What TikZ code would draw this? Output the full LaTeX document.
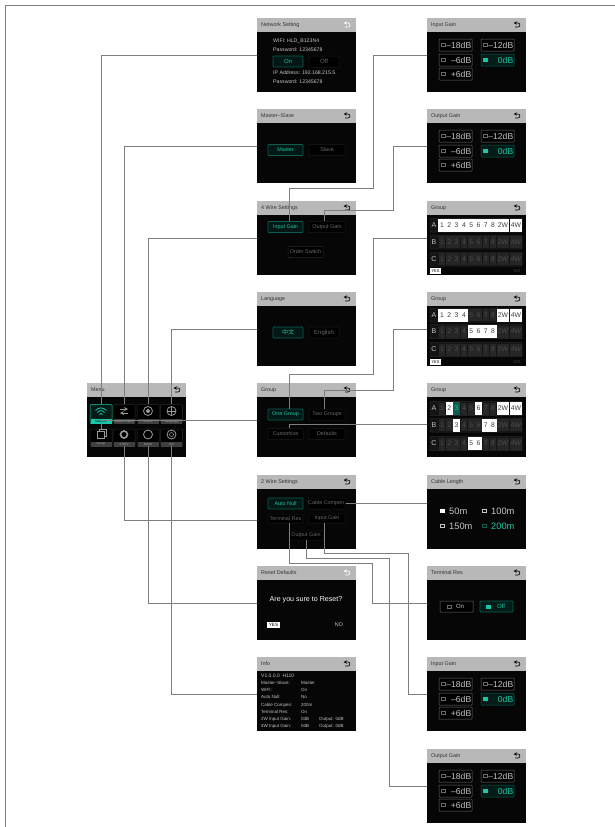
\documentclass[tikz,border=0pt]{standalone}
\usepackage{fontspec}
\setmainfont{Liberation Sans}
\newfontfamily\cjk{Noto Sans CJK SC}
\usepackage{xcolor}
\usetikzlibrary{shapes,arrows,positioning,calc,fit}

\definecolor{scrteal}{HTML}{19C7A6}
\definecolor{scrtealdark}{HTML}{0B5E50}
\definecolor{scrbar}{HTML}{B8B8B8}
\definecolor{scrblack}{HTML}{060606}
\definecolor{scrline}{HTML}{2A2A2A}
\definecolor{scrfaint}{HTML}{1C1C1C}
\definecolor{scrgrey}{HTML}{6A6A6A}
\definecolor{scrtext}{HTML}{C4C4C4}
\definecolor{linkgrey}{HTML}{7E7E7E}

\newcommand{\fs}[1]{\fontsize{#1}{#1}\selectfont}

% name, left, top, title, colour of the back icon
\newcommand{\screen}[5]{
    \node[scrbody, anchor=north west] (#1) at (#2,#3) {};
    \node[scrhead, anchor=north west] (#1bar) at (#1.north west) {};
    \node[scrtitle, anchor=west] (#1title) at ([xshift=4pt]#1bar.west) {#4};
    \draw[->, >=stealth, line width=0.6pt, color=#5] ([shift={(-11,2)}]#1bar.east) -- ++(3,0) to[out=0, in=0, looseness=1.6] ++(0,-4) -- ++(-4.5,0);
}

% name, top, title
\newcommand{\gainscreen}[3]{
    \screen{#1}{427}{#2}{#3}{black}
    \begin{scope}[shift={(427,#2)}]
        \foreach \nm/\cx/\cy/\lab in {a/28.5/27/–18dB, b/70.5/27/–12dB, c/28.5/42/–6dB, e/28.5/56/+6dB} {
            \node[gainbtn] (#1\nm) at (\cx,\cy) {\lab};
            \node[gainmark] (#1\nm m) at (\cx-12,\cy) {};
        }
        \node[gainbtn, draw=scrtealdark, fill=scrtealdark!30!black, text=scrteal] (#1d) at (70.5,42) {0dB};
        \node[gainmark, fill=scrteal, draw=scrteal] (#1dm) at (70.5-12,42) {};
    \end{scope}
}

% marks a cell that the row loop has to leave out
\newcommand{\skipcell}[3]{\expandafter\gdef\csname skip#1#2#3\endcsname{}}

% name, top, centres of the rows, lit cells as row/cell
\newcommand{\groupscreen}[6]{
    \screen{#1}{427}{#2}{Group}{black}
    \foreach \rowname/\cellno in {#6} {
        \skipcell{#1}{\rowname}{\cellno}
    }
    \foreach \rowname/\rowy in {A/#3, B/#4, C/#5} {
        \node[rowbox] (#1\rowname) at (476,\rowy) {};
        \node[rowlab] (#1\rowname l) at (434,\rowy) {\rowname};
        \foreach \cellno in {1,...,10} {
            \pgfmathsetmacro\cx{\cellno<9 ? 442+7.3*(\cellno-1) : (\cellno==9 ? 503 : 516)}
            \pgfmathsetmacro\cw{\cellno<9 ? 6.6 : 12.2}
            \ifcsname skip#1\rowname\cellno\endcsname\else
                \node[celloff, minimum width=\cw pt] (#1\rowname\cellno) at (\cx,\rowy) {\celllab{\cellno}};
            \fi
        }
    }
    \foreach \rowname/\cellno in {#6} {
        \pgfmathsetmacro\cx{\cellno<9 ? 442+7.3*(\cellno-1) : (\cellno==9 ? 503 : 516)}
        \pgfmathsetmacro\cw{\cellno<9 ? 7.4 : 12.6}
        \node[cellon, minimum width=\cw pt] (#1\rowname\cellno on) at (\cx,0 |- #1\rowname) {\celllab{\cellno}};
    }
}
\newcommand{\celllab}[1]{\ifnum#1=9 2W\else\ifnum#1=10 4W\else#1\fi\fi}

\begin{document}
\begin{tikzpicture}[x=1pt, y=-1pt]
    \tikzstyle{scrbody} = [rectangle, fill=scrblack, inner sep=0pt, outer sep=0pt, minimum width=99pt, minimum height=74pt]
    \tikzstyle{scrhead} = [rectangle, fill=scrbar, inner sep=0pt, outer sep=0pt, minimum width=99pt, minimum height=14pt]
    \tikzstyle{scrtitle} = [inner sep=0pt, text=black!80, font=\fs{5.4}]
    \tikzstyle{btnon} = [rectangle, rounded corners=0.8pt, draw=scrtealdark, line width=0.7pt, fill=scrtealdark!25!black, text=scrteal, inner sep=0pt, minimum height=11pt, font=\fs{5.4}]
    \tikzstyle{btnoff} = [rectangle, rounded corners=0.8pt, draw=scrfaint, line width=0.5pt, fill=black, text=scrgrey, inner sep=0pt, minimum height=11pt, font=\fs{5.4}]
    \tikzstyle{scrline} = [inner sep=0pt, text=scrtext, font=\fs{5.2}, anchor=west]
    \tikzstyle{infoline} = [inner sep=0pt, text=scrtext, font=\fs{4.5}, anchor=west]
    \tikzstyle{gainbtn} = [rectangle, rounded corners=0.6pt, draw=scrgrey, line width=0.5pt, fill=black, text=scrtext, inner sep=0pt, minimum width=33pt, minimum height=12pt, text width=31.5pt, align=right, font=\fs{8.6}]
    \tikzstyle{gainmark} = [rectangle, draw=scrgrey, line width=0.4pt, inner sep=0pt, minimum width=4pt, minimum height=3pt]
    \tikzstyle{rowbox} = [rectangle, rounded corners=0.8pt, draw=scrline, line width=0.5pt, fill=black!92!white, inner sep=0pt, minimum width=92pt, minimum height=14pt]
    \tikzstyle{rowlab} = [inner sep=0pt, text=scrtext, font=\fs{7}]
    \tikzstyle{celloff} = [rectangle, fill=black!85!white, text=black!70!white, inner sep=0pt, minimum height=12pt, font=\fs{6.8}]
    \tikzstyle{cellon} = [rectangle, fill=white, text=black!75, inner sep=0pt, minimum height=13pt, font=\fs{6.8}]
    \tikzstyle{menutile} = [rectangle, rounded corners=1pt, draw=scrline, line width=0.5pt, fill=black, inner sep=0pt, minimum width=22pt]
    \tikzstyle{menustrip} = [rectangle, fill=black!75!white, text=black!35!white, inner sep=0pt, minimum width=21pt, minimum height=5pt, font=\fs{3.1}]
    \tikzstyle{menuicon} = [line width=0.8pt, draw=black!40!white]
    \tikzstyle{link} = [draw=linkgrey, line width=0.9pt]

    \useasboundingbox (0,0) rectangle (615,827);

    % Outer frame
    \coordinate (framea) at (5.5,827);
    \coordinate (frameb) at (5.5,5.5);
    \coordinate (framec) at (615,5.5);
    \draw[link] (framea) -- (frameb) -- (framec);

    % Menu
    \screen{menu}{87}{383}{Menu}{black}
    \node[menutile, draw=scrteal, minimum height=19pt, fill=scrtealdark!30!black] (wifi) at (101,414) {};
    \node[menustrip, anchor=south, fill=scrteal, text=black] (wifis) at ([yshift=-0.5pt]wifi.south) {Network};
    \foreach \nm/\cx/\cy/\ch/\lab in {ms/124/414/19/Master--Slave, fw/148/414/19/4 Wire, lang/171.5/414/19/Language, grp/101/437.5/17/Group, tw/124/437.5/17/2 Wire, rst/148/437.5/17/Reset, inf/171.5/437.5/17/Info} {
        \node[menutile, minimum height=\ch pt] (\nm) at (\cx,\cy) {};
        \node[menustrip, anchor=south] (\nm s) at ([yshift=-0.5pt]\nm.south) {\lab};
    }
    % Icons
    \begin{scope}[shift={(101,414)}, draw=scrteal, line width=0.8pt]
        \draw (-5.5,-3.5) .. controls (-2,-7) and (2,-7) .. (5.5,-3.5);
        \draw (-3.5,-1.5) .. controls (-1.5,-4) and (1.5,-4) .. (3.5,-1.5);
        \draw (-1.5,0.5) .. controls (-0.5,-1) and (0.5,-1) .. (1.5,0.5);
    \end{scope}
    \draw[menuicon, ->, >=stealth] (120,409) -- (128,409);
    \draw[menuicon, ->, >=stealth] (128,413) -- (120,413);
    \draw[menuicon] (148,411) circle (4.5);
    \draw[menuicon, fill=black!40!white] (148,411) circle (1.8);
    \draw[menuicon] (171.5,411) circle (4.5);
    \draw[menuicon, line width=0.5pt] (167,411) -- (176,411) (171.5,406.5) -- (171.5,415.5);
    \draw[menuicon] (97,431) rectangle (104,438);
    \draw[menuicon, line width=0.5pt] (99,431) |- (106,429) -- (106,436) -- (104,436);
    \draw[menuicon, line width=1.6pt] (124,434.5) circle (3.5);
    \draw[menuicon] (148,434.5) circle (4.5);
    \draw[menuicon] (171.5,434.5) circle (4.5);
    \draw[menuicon, line width=0.5pt] (171.5,434.5) circle (2);

    % Network Setting
    \screen{netset}{257}{18}{Network Setting}{white}
    \node[scrline] (netwifi) at (273,41) {WIFI: HLD\_B123N4};
    \node[scrline] (netpass) at (273,50) {Password: 12345678};
    \node[btnon, minimum width=30pt, font=\fs{6}] (neton) at (288,61.5) {On};
    \node[btnoff, minimum width=30pt, font=\fs{6}] (netoff) at (324,61.5) {Off};
    \node[scrline] (netip) at (273,73) {IP Address: 192.168.215.5};
    \node[scrline] (netpassb) at (273,82) {Password: 12345678};

    % Master-Slave
    \screen{master}{257}{109}{Master--Slave}{black}
    \node[btnon, minimum width=35pt] (masteron) at (285.5,150) {Master};
    \node[btnoff, minimum width=36pt] (slaveoff) at (327,150) {Slave};

    % 4 Wire Settings
    \screen{fourwire}{257}{201}{4 Wire Settings}{black}
    \node[btnon, minimum width=35pt] (fwinput) at (285.5,227) {Input Gain};
    \node[btnoff, minimum width=36pt] (fwoutput) at (327,227) {Output Gain};
    \node[btnoff, draw=scrline, minimum width=35pt] (fworder) at (305.5,252) {Order Switch};

    % Language
    \screen{language}{257}{292}{Language}{black}
    \node[btnon, minimum width=30pt, font={\cjk\fs{6}}] (langzh) at (288,332.5) {中文};
    \node[btnoff, minimum width=30pt, font=\fs{6}] (langen) at (324,332.5) {English};

    % Group
    \screen{groupset}{257}{383}{Group}{black}
    \node[btnon, minimum width=35pt] (gsone) at (285.5,414.5) {One Group};
    \node[btnoff, minimum width=36pt] (gstwo) at (327,414.5) {Two Groups};
    \node[btnoff, minimum width=35pt] (gscustom) at (285.5,434) {Customize};
    \node[btnoff, minimum width=36pt] (gsdefault) at (327,434) {Defaults};

    % 2 Wire Settings
    \screen{twowire}{257}{475}{2 Wire Settings}{black}
    \node[btnon, minimum width=35pt] (twnull) at (285.5,503.5) {Auto Null};
    \node[btnoff, minimum width=36pt] (twcable) at (327,503.5) {Cable Compen.};
    \node[btnoff, minimum width=35pt, minimum height=9pt] (twterm) at (285.5,518.5) {Terminal Res};
    \node[btnoff, minimum width=36pt, minimum height=9pt] (twinput) at (327,518.5) {Input Gain};
    \node[btnoff, minimum width=34pt, minimum height=9pt] (twoutput) at (306,535.5) {Output Gain};

    % Reset Defaults
    \screen{resetdef}{257}{566}{Reset Defaults}{white}
    \node[inner sep=0pt, text=white, font=\fs{7.1}] (resetask) at (306,600) {Are you sure to Reset?};
    \node[rectangle, fill=white, text=black, inner sep=0pt, minimum width=13pt, minimum height=6pt, font=\fs{4.6}] (resetyes) at (273.5,625) {YES};
    \node[inner sep=0pt, text=scrtext, font=\fs{5.4}] (resetno) at (339,625) {NO};

    % Info
    \screen{infoscr}{257}{657}{Info}{black}
    \node[infoline, font=\fs{5}] (infotop) at (261,676) {V1.0.0.0\ \ H110};
    \foreach \ya/\la/\lb/\lc in {683/Master--Slave:/Master/, 690/WIFI:/On/, 697/Auto Null:/No/, 705/Cable Compen:/200m/, 712/Terminal Res:/On/, 719/2W Input Gain:/0dB/Output: 0dB, 726/4W Input Gain:/0dB/Output: 0dB} {
        \node[infoline] (info\ya a) at (261,\ya) {\la};
        \node[infoline] (info\ya b) at (301,\ya) {\lb};
        \node[infoline] (info\ya c) at (319,\ya) {\lc};
    }

    % Gains and groups on the right
    \gainscreen{inputa}{18}{Input Gain}
    \gainscreen{outputa}{109}{Output Gain}
    \groupscreen{groupa}{201}{225}{242}{259}{A/1,A/2,A/3,A/4,A/5,A/6,A/7,A/8,A/9,A/10}
    \node[rectangle, fill=white, text=black, inner sep=0pt, minimum width=11pt, minimum height=6pt, font=\fs{4}] (groupayes) at (435.5,271) {YES};
    \node[inner sep=0pt, text=black!75!white, font=\fs{4.4}] (groupano) at (517,271) {NO};
    \groupscreen{groupb}{292}{315}{331.5}{349.5}{A/1,A/2,A/3,A/4,A/9,A/10,B/5,B/6,B/7,B/8}
    \node[rectangle, fill=white, text=black, inner sep=0pt, minimum width=11pt, minimum height=6pt, font=\fs{4}] (groupbyes) at (435.5,362) {YES};
    \node[inner sep=0pt, text=black!75!white, font=\fs{4.4}] (groupbno) at (517,362) {NO};
    \skipcell{groupc}{A}{3}
    \groupscreen{groupc}{383}{408.5}{425}{443.5}{A/2,A/6,A/9,A/10,B/3,B/7,B/8,C/5,C/6}
    \node[cellon, minimum width=7.4pt, fill=scrtealdark, text=scrteal] (groupcteal) at (456.6,408.5) {3};

    % Cable Length
    \screen{cablelen}{427}{475}{Cable Length}{black}
    \node[gainmark, fill=white, draw=white] (fiftym) at (442,511) {};
    \node[inner sep=0pt, anchor=west, text=scrtext, font=\fs{9.3}] (fifty) at (449,511) {50m};
    \foreach \nm/\cx/\cy/\lab in {hundred/484/511/100m, onefifty/442/526/150m} {
        \node[gainmark, draw=scrtext] (\nm m) at (\cx,\cy) {};
        \node[inner sep=0pt, anchor=west, text=scrtext, font=\fs{9.3}] (\nm) at (\cx+7,\cy) {\lab};
    }
    \node[gainmark, draw=scrtealdark] (twohundredm) at (484,526) {};
    \node[inner sep=0pt, anchor=west, text=scrteal, font=\fs{9.3}] (twohundred) at (491,526) {200m};

    % Terminal Res
    \screen{termres}{427}{566}{Terminal Res}{black}
    \node[rectangle, rounded corners=0.6pt, draw=scrgrey, line width=0.5pt, fill=black, inner sep=0pt, minimum width=33pt, minimum height=11pt] (termon) at (456.5,606.5) {};
    \node[rectangle, rounded corners=0.6pt, draw=scrtealdark, line width=0.7pt, fill=scrtealdark!30!black, inner sep=0pt, minimum width=33pt, minimum height=11pt] (termoff) at (496.5,606.5) {};
    \node[gainmark] (termonm) at (449,606.5) {};
    \node[gainmark, fill=scrteal, draw=scrteal] (termoffm) at (488,606.5) {};
    \node[inner sep=0pt, text=scrtext, font=\fs{6}] (termontx) at (460,606.5) {On};
    \node[inner sep=0pt, text=scrteal, font=\fs{6}] (termofftx) at (501,606.5) {Off};

    \gainscreen{inputb}{657}{Input Gain}
    \gainscreen{outputb}{749}{Output Gain}

    % Menu connectors
    \draw[link] (wifi.north) |- (netset.west);
    \draw[link] (ms.north) |- (master.west);
    \draw[link] (fw.north) |- (fourwire.west);
    \draw[link] (lang.north) |- (language.west);
    \draw[link] (grp.north) |- (groupset.west);
    \draw[link] (tw.south) |- ([yshift=-8pt]twowire.west);
    \draw[link] (rst.south) |- (resetdef.west);
    \draw[link] (inf.south) |- (infoscr.west);

    % Submenu connectors
    \draw[link] ([xshift=3.5pt]fwinput.north) |- (373,188) |- (inputa.west);
    \draw[link] ([xshift=-3pt]fwoutput.north) |- (393,210) |- (outputa.west);
    \draw[link] ([xshift=3.5pt]gsone.north) |- (373,374) |- (groupa.west);
    \draw[link] ([xshift=-3pt]gstwo.north) |- (393,390) |- (groupb.west);
    \draw[link] ([xshift=3.5pt]gscustom.north) |- ([yshift=-4pt]groupc.west);
    \draw[link] (twcable.east) -- (twcable.east -| cablelen.west);
    \draw[link] ([xshift=3.5pt]twterm.south) |- (372,563) |- (termres.west);
    \draw[link] (twoutput.south) |- (389,558) |- (outputb.west);
    \draw[link] ([xshift=-3pt]twinput.south) |- (408,553) |- (inputb.west);
\end{tikzpicture}
\end{document}
